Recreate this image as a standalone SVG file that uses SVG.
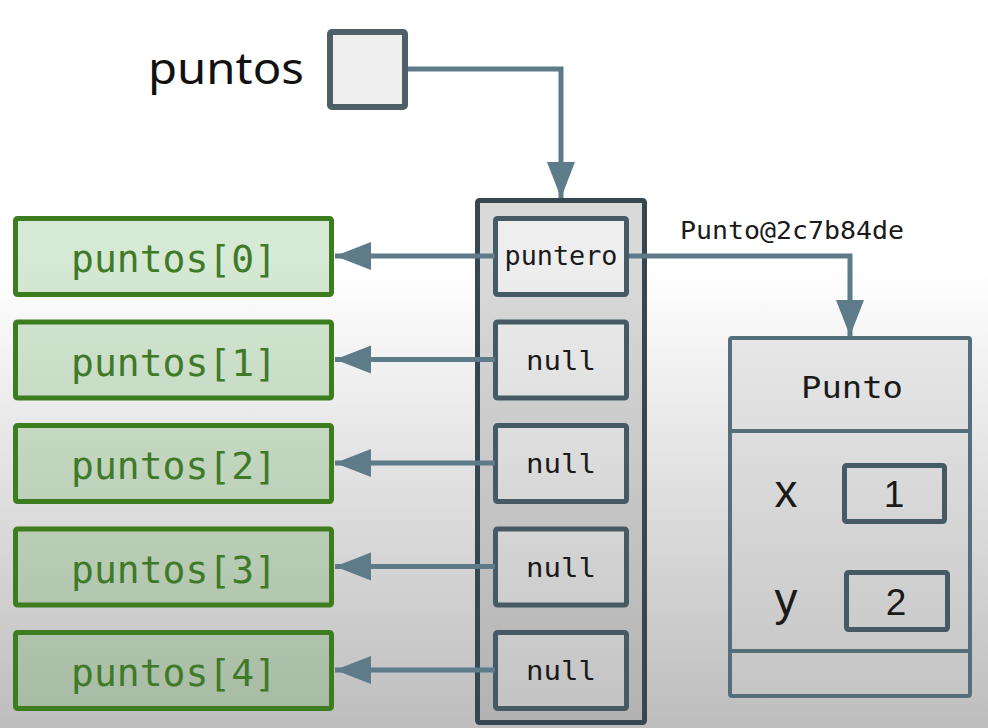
<svg xmlns="http://www.w3.org/2000/svg" width="988" height="728" viewBox="0 0 988 728">
  <defs>
    <linearGradient id="gBg" gradientUnits="userSpaceOnUse" x1="0" y1="270" x2="0" y2="728">
      <stop offset="0" stop-color="#ffffff"/>
      <stop offset="1" stop-color="#bdbdbd"/>
    </linearGradient>
    <linearGradient id="gGreen" gradientUnits="userSpaceOnUse" x1="0" y1="260" x2="0" y2="728">
      <stop offset="0" stop-color="#d6e9d4"/>
      <stop offset="1" stop-color="#a6b9a2"/>
    </linearGradient>
    <linearGradient id="gCell" gradientUnits="userSpaceOnUse" x1="0" y1="260" x2="0" y2="728">
      <stop offset="0" stop-color="#eeeeee"/>
      <stop offset="1" stop-color="#c2c2c2"/>
    </linearGradient>
    <linearGradient id="gCont" gradientUnits="userSpaceOnUse" x1="0" y1="260" x2="0" y2="728">
      <stop offset="0" stop-color="#dadada"/>
      <stop offset="1" stop-color="#b2b2b2"/>
    </linearGradient>
    <marker id="ah" markerUnits="userSpaceOnUse" markerWidth="38" markerHeight="30" refX="36" refY="14" orient="auto">
      <path d="M0,0 L36,14 L0,28 Z" fill="#5d7b89"/>
    </marker>
    <style>
      .conn { fill: none; stroke: #5d7b89; stroke-width: 5; }
      .green rect { fill: url(#gGreen); stroke: #3d7d20; stroke-width: 5; }
      .green text { font-family: "DejaVu Sans Mono", "Liberation Mono", monospace; font-size: 38px; fill: #3f7a28; text-anchor: middle; }
      .cell rect { fill: url(#gCell); stroke: #455a64; stroke-width: 5; }
      .cell text { font-family: "DejaVu Sans Mono", "Liberation Mono", monospace; font-size: 27px; fill: #1a1a1a; text-anchor: middle; }
      .mono { font-family: "DejaVu Sans Mono", "Liberation Mono", monospace; fill: #1a1a1a; }
      .sans { font-family: "Liberation Sans", Arial, sans-serif; fill: #1a1a1a; }
    </style>
  </defs>

  <rect x="0" y="0" width="988" height="728" fill="url(#gBg)"/>

  <!-- puntos variable -->
  <g id="puntos-var">
    <text x="148" y="84" font-family="Noto Sans, sans-serif" font-size="43" fill="#111" textLength="156" lengthAdjust="spacingAndGlyphs">puntos</text>
    <rect x="330" y="32" width="75" height="75" rx="2" fill="#eeeeee" stroke="#4f5f67" stroke-width="6"/>
  </g>

  <!-- array container -->
  <g id="array">
    <rect x="477.5" y="200.5" width="167" height="522" rx="2" fill="url(#gCont)" stroke="#37474f" stroke-width="5"/>
  </g>

  <!-- array cells -->
  <g id="cell0" class="cell">
    <rect x="495.5" y="218.5" width="131" height="76" rx="2"/>
    <text x="561" y="265" textLength="113" lengthAdjust="spacingAndGlyphs">puntero</text>
  </g>
  <g id="cell1" class="cell">
    <rect x="495.5" y="322" width="131" height="76" rx="2"/>
    <text x="561" y="370" textLength="70" lengthAdjust="spacingAndGlyphs">null</text>
  </g>
  <g id="cell2" class="cell">
    <rect x="495.5" y="425.5" width="131" height="76" rx="2"/>
    <text x="561" y="473" textLength="70" lengthAdjust="spacingAndGlyphs">null</text>
  </g>
  <g id="cell3" class="cell">
    <rect x="495.5" y="529" width="131" height="76" rx="2"/>
    <text x="561" y="577" textLength="70" lengthAdjust="spacingAndGlyphs">null</text>
  </g>
  <g id="cell4" class="cell">
    <rect x="495.5" y="632.5" width="131" height="76" rx="2"/>
    <text x="561" y="680" textLength="70" lengthAdjust="spacingAndGlyphs">null</text>
  </g>

  <!-- green index boxes -->
  <g id="p0" class="green">
    <rect x="15.5" y="218.5" width="316" height="76" rx="2"/>
    <text x="174" y="272" textLength="206" lengthAdjust="spacingAndGlyphs">puntos[0]</text>
  </g>
  <g id="p1" class="green">
    <rect x="15.5" y="322" width="316" height="76" rx="2"/>
    <text x="174" y="375.5" textLength="206" lengthAdjust="spacingAndGlyphs">puntos[1]</text>
  </g>
  <g id="p2" class="green">
    <rect x="15.5" y="425.5" width="316" height="76" rx="2"/>
    <text x="174" y="479" textLength="206" lengthAdjust="spacingAndGlyphs">puntos[2]</text>
  </g>
  <g id="p3" class="green">
    <rect x="15.5" y="529" width="316" height="76" rx="2"/>
    <text x="174" y="582.5" textLength="206" lengthAdjust="spacingAndGlyphs">puntos[3]</text>
  </g>
  <g id="p4" class="green">
    <rect x="15.5" y="632.5" width="316" height="76" rx="2"/>
    <text x="174" y="686" textLength="206" lengthAdjust="spacingAndGlyphs">puntos[4]</text>
  </g>

  <!-- Punto object -->
  <g id="punto-obj">
    <rect x="730" y="338" width="240" height="358" rx="2" fill="url(#gCell)" stroke="#546e7a" stroke-width="4"/>
    <line x1="730" y1="431" x2="970" y2="431" stroke="#546e7a" stroke-width="4"/>
    <line x1="730" y1="651" x2="970" y2="651" stroke="#546e7a" stroke-width="4"/>
    <text class="mono" x="852" y="398" font-size="31" text-anchor="middle" textLength="102" lengthAdjust="spacingAndGlyphs">Punto</text>
  </g>
  <g id="field-x">
    <text class="sans" x="786" y="507" font-size="46" text-anchor="middle">x</text>
    <rect x="844.5" y="465.5" width="100" height="56" rx="2" fill="url(#gCell)" stroke="#455a64" stroke-width="5"/>
    <text class="sans" x="894" y="507" font-size="37" text-anchor="middle">1</text>
  </g>
  <g id="field-y">
    <text class="sans" x="786" y="615" font-size="46" text-anchor="middle">y</text>
    <rect x="846.5" y="572.5" width="101" height="57" rx="2" fill="url(#gCell)" stroke="#455a64" stroke-width="5"/>
    <text class="sans" x="896" y="615" font-size="37" text-anchor="middle">2</text>
  </g>

  <!-- connectors -->
  <g id="connectors">
    <polyline class="conn" points="408,69 561,69 561,198" marker-end="url(#ah)"/>
    <polyline class="conn" points="629,256 850,256 850,336" marker-end="url(#ah)"/>
    <line class="conn" x1="495" y1="256" x2="335" y2="256" marker-end="url(#ah)"/>
    <line class="conn" x1="495" y1="359.5" x2="335" y2="359.5" marker-end="url(#ah)"/>
    <line class="conn" x1="495" y1="463" x2="335" y2="463" marker-end="url(#ah)"/>
    <line class="conn" x1="495" y1="566.5" x2="335" y2="566.5" marker-end="url(#ah)"/>
    <line class="conn" x1="495" y1="670" x2="335" y2="670" marker-end="url(#ah)"/>
    <text class="mono" x="680" y="239" font-size="24" textLength="224" lengthAdjust="spacingAndGlyphs">Punto@2c7b84de</text>
  </g>
</svg>
